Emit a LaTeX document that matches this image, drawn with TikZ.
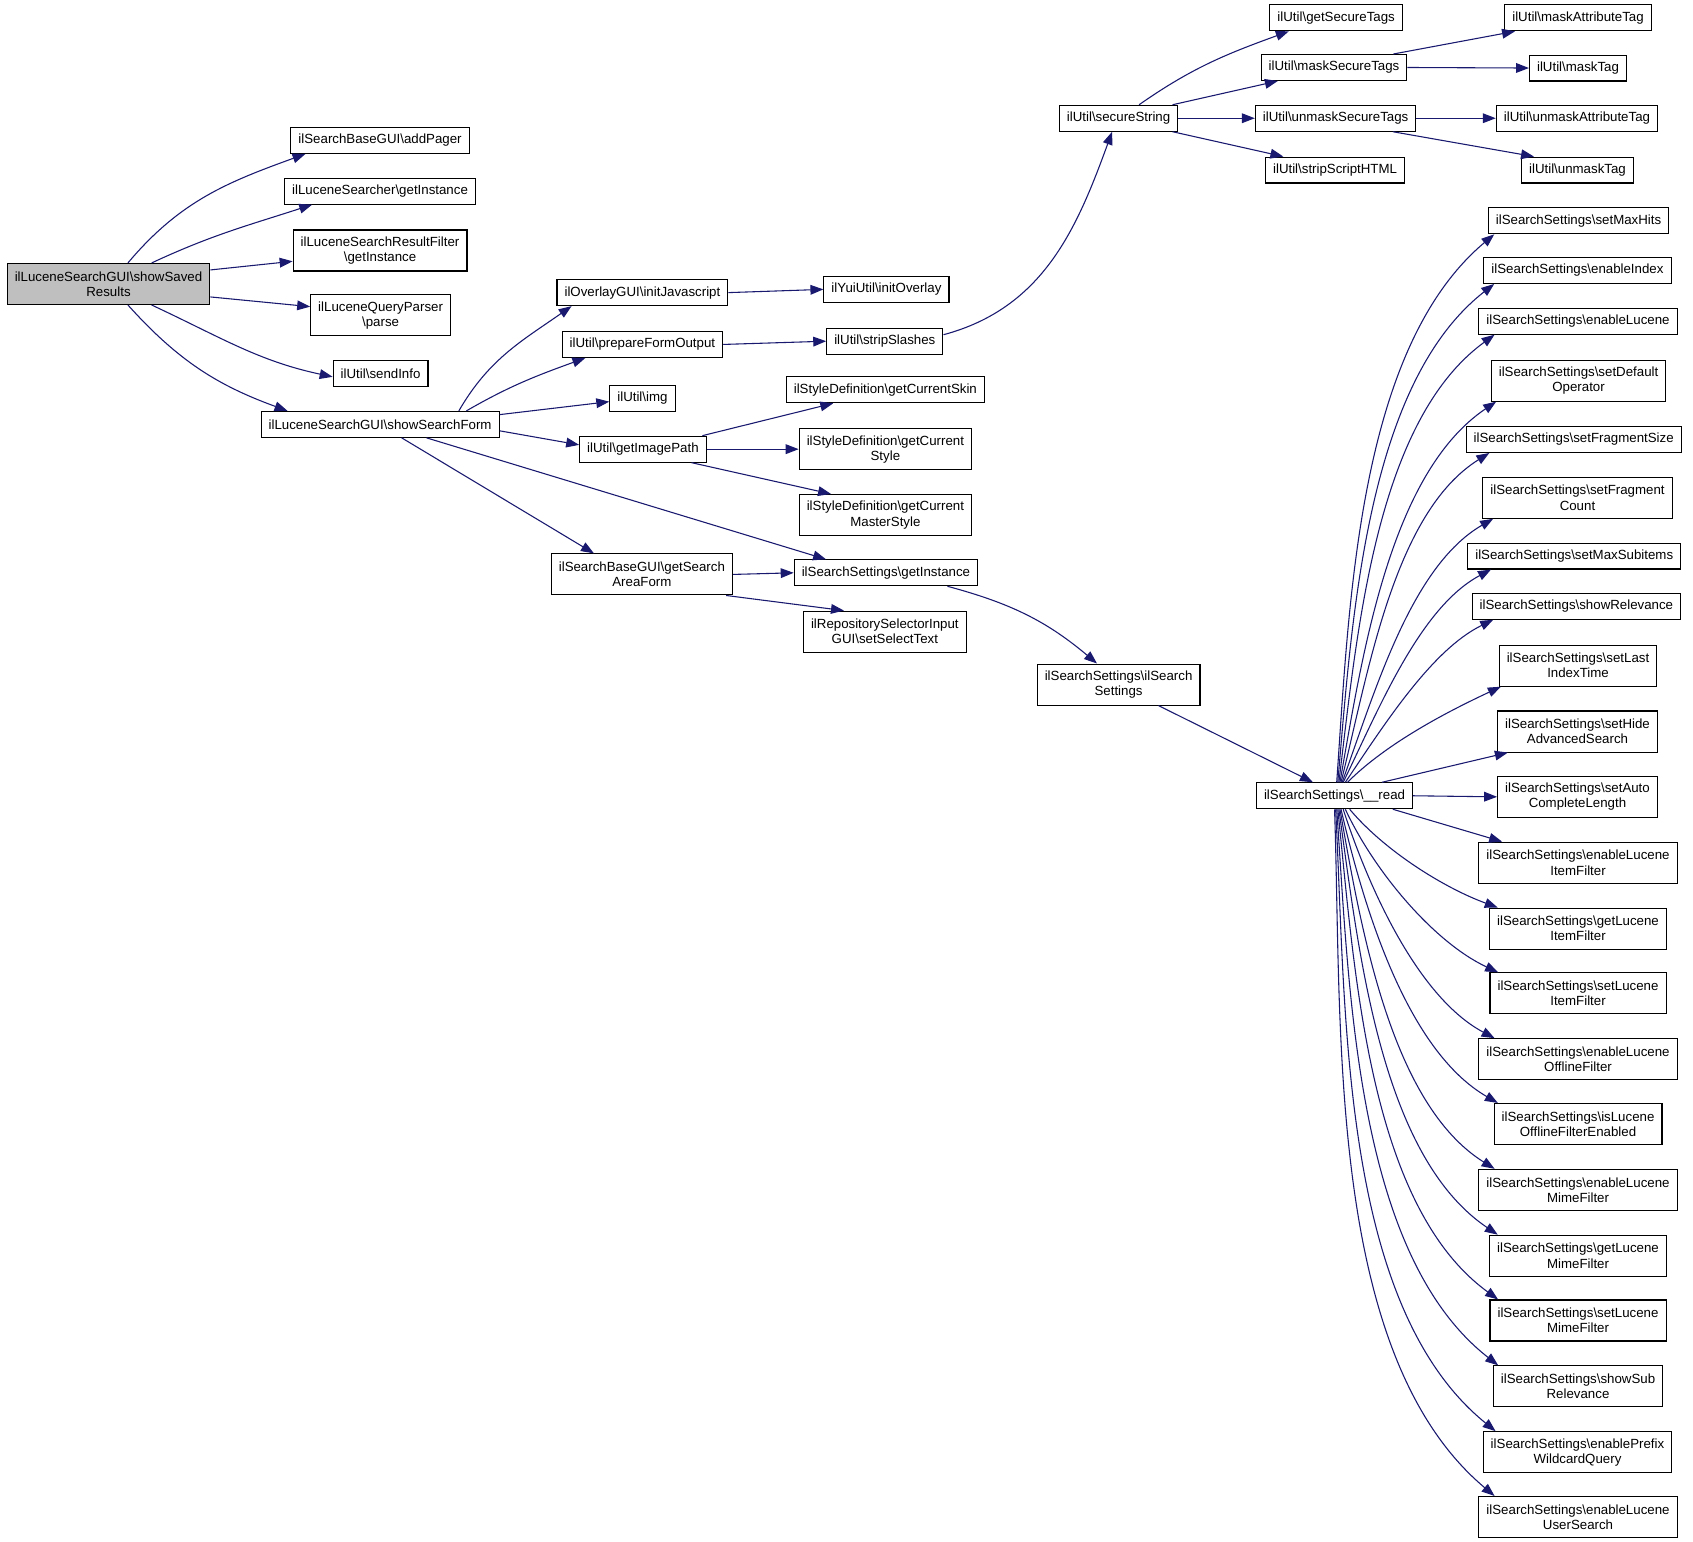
\documentclass[tikz,border=0pt]{standalone}
\usepackage{fontspec}
\setmainfont{Liberation Sans}
\usepackage{tikz}
\usetikzlibrary{arrows.meta,positioning}
\definecolor{callblue}{HTML}{191970}
\newcommand{\bsl}{\textbackslash}
\tikzstyle{fn} = [rectangle, draw=black, line width=1pt, inner xsep=7pt, inner ysep=0pt,
   minimum height=24pt, align=center, font=\fontsize{12.3}{14}\selectfont]
\tikzstyle{fntwo} = [fn, minimum height=38pt]
\tikzstyle{root} = [fntwo, fill=black!25]
\tikzstyle{call} = [-{Triangle[length=12pt,width=9pt]}, draw=callblue, line width=1pt]

\begin{document}
\begin{tikzpicture}[x=1pt,y=1pt]
\useasboundingbox (0,0) rectangle (1568,-1428);

% caller
\node (saved) [root] at (100.5,-263) {ilLuceneSearchGUI\bsl showSaved\\Results};

% first level
\node (addPager) [fn] at (352,-130) {ilSearchBaseGUI\bsl addPager};
\node (searcherInst) [fn] at (352,-177) {ilLuceneSearcher\bsl getInstance};
\node (filterInst) [fntwo] at (352,-232) {ilLuceneSearchResultFilter\\\bsl getInstance};
\node (parserParse) [fntwo] at (352.5,-292) {ilLuceneQueryParser\\\bsl parse};
\node (sendInfo) [fn] at (352.5,-346) {ilUtil\bsl sendInfo};
\node (searchForm) [fn] at (352,-393) {ilLuceneSearchGUI\bsl showSearchForm};

% second level
\node (initJs) [fn] at (595,-271) {ilOverlayGUI\bsl initJavascript};
\node (prepForm) [fn] at (595,-319) {ilUtil\bsl prepareFormOutput};
\node (img) [fn] at (595,-369) {ilUtil\bsl img};
\node (imgPath) [fn] at (595.5,-416) {ilUtil\bsl getImagePath};
\node (areaForm) [fntwo] at (594.5,-532) {ilSearchBaseGUI\bsl getSearch\\AreaForm};

% third level
\node (initOverlay) [fn] at (821,-268) {ilYuiUtil\bsl initOverlay};
\node (stripSlashes) [fn] at (819.5,-316) {ilUtil\bsl stripSlashes};
\node (curSkin) [fn] at (820,-361) {ilStyleDefinition\bsl getCurrentSkin};
\node (curStyle) [fntwo] at (820,-416) {ilStyleDefinition\bsl getCurrent\\Style};
\node (curMaster) [fntwo] at (820,-477) {ilStyleDefinition\bsl getCurrent\\MasterStyle};
\node (settingsInst) [fn] at (820.5,-530.5) {ilSearchSettings\bsl getInstance};
\node (selectText) [fntwo] at (819.5,-585) {ilRepositorySelectorInput\\GUI\bsl setSelectText};

% fourth level
\node (secureString) [fn] at (1036,-109.5) {ilUtil\bsl secureString};
\node (settingsCtor) [fntwo] at (1036,-634) {ilSearchSettings\bsl ilSearch\\Settings};

% fifth level
\node (getSecTags) [fn] at (1237.5,-16.5) {ilUtil\bsl getSecureTags};
\node (maskSecTags) [fn] at (1235.5,-62.5) {ilUtil\bsl maskSecureTags};
\node (unmaskSecTags) [fn] at (1237,-109.5) {ilUtil\bsl unmaskSecureTags};
\node (stripScript) [fn] at (1236.5,-157.5) {ilUtil\bsl stripScriptHTML};
\node (read) [fn] at (1236,-737) {ilSearchSettings\bsl\_\_read};

% tag helpers
\node (maskAttr) [fn] at (1461.5,-16.5) {ilUtil\bsl maskAttributeTag};
\node (maskTag) [fn] at (1461.5,-63) {ilUtil\bsl maskTag};
\node (unmaskAttr) [fn] at (1460.5,-109.5) {ilUtil\bsl unmaskAttributeTag};
\node (unmaskTag) [fn] at (1461,-157.5) {ilUtil\bsl unmaskTag};

% settings read by __read
\node (maxHits) [fn] at (1462,-204.5) {ilSearchSettings\bsl setMaxHits};
\node (enIndex) [fn] at (1461,-250.5) {ilSearchSettings\bsl enableIndex};
\node (enLucene) [fn] at (1461.5,-297.5) {ilSearchSettings\bsl enableLucene};
\node (defOperator) [fntwo] at (1462,-352.5) {ilSearchSettings\bsl setDefault\\Operator};
\node (fragSize) [fn] at (1457.5,-407) {ilSearchSettings\bsl setFragmentSize};
\node (fragCount) [fntwo] at (1461,-461) {ilSearchSettings\bsl setFragment\\Count};
\node (maxSubitems) [fn] at (1458,-515) {ilSearchSettings\bsl setMaxSubitems};
\node (showRel) [fn] at (1460,-561.5) {ilSearchSettings\bsl showRelevance};
\node (lastIndex) [fntwo] at (1461.5,-616.5) {ilSearchSettings\bsl setLast\\IndexTime};
\node (hideAdv) [fntwo] at (1461,-677.5) {ilSearchSettings\bsl setHide\\AdvancedSearch};
\node (autoComplete) [fntwo] at (1461,-738) {ilSearchSettings\bsl setAuto\\CompleteLength};
\node (enItemFilter) [fntwo] at (1461.5,-799) {ilSearchSettings\bsl enableLucene\\ItemFilter};
\node (getItemFilter) [fntwo] at (1461.5,-860) {ilSearchSettings\bsl getLucene\\ItemFilter};
\node (setItemFilter) [fntwo] at (1461.5,-920) {ilSearchSettings\bsl setLucene\\ItemFilter};
\node (enOffline) [fntwo] at (1461.5,-981) {ilSearchSettings\bsl enableLucene\\OfflineFilter};
\node (isOffline) [fntwo] at (1461.5,-1041) {ilSearchSettings\bsl isLucene\\OfflineFilterEnabled};
\node (enMime) [fntwo] at (1461.5,-1102) {ilSearchSettings\bsl enableLucene\\MimeFilter};
\node (getMime) [fntwo] at (1461.5,-1163) {ilSearchSettings\bsl getLucene\\MimeFilter};
\node (setMime) [fntwo] at (1461.5,-1223) {ilSearchSettings\bsl setLucene\\MimeFilter};
\node (showSubRel) [fntwo] at (1461.5,-1284) {ilSearchSettings\bsl showSub\\Relevance};
\node (enPrefix) [fntwo] at (1461,-1345) {ilSearchSettings\bsl enablePrefix\\WildcardQuery};
\node (enUserSearch) [fntwo] at (1461.5,-1405) {ilSearchSettings\bsl enableLucene\\UserSearch};

% calls from showSavedResults
\draw [call] ([xshift=18pt]saved.north) to[out=50,in=200] ([xshift=14pt]addPager.south west);
\draw [call] ([xshift=40pt]saved.north) to[out=25,in=198] ([xshift=26pt]searcherInst.south west);
\draw [call] ([yshift=13pt]saved.east) -- ([yshift=-10pt]filterInst.west);
\draw [call] ([yshift=-12pt]saved.east) -- ([yshift=8pt]parserParse.west);
\draw [call] ([xshift=40pt]saved.south) to[out=-25,in=168] ([yshift=-3pt]sendInfo.west);
\draw [call] ([xshift=18pt]saved.south) to[out=-48,in=160] ([xshift=25pt]searchForm.north west);

% calls from showSearchForm
\draw [call] ([xshift=73pt]searchForm.north) to[out=60,in=215] ([xshift=14pt]initJs.south west);
\draw [call] ([xshift=80pt]searchForm.north) to[out=30,in=200] ([xshift=22pt]prepForm.south west);
\draw [call] ([yshift=9pt]searchForm.east) -- ([yshift=-3pt]img.west);
\draw [call] ([yshift=-6pt]searchForm.east) -- ([yshift=4pt]imgPath.west);
\draw [call] ([xshift=43pt]searchForm.south) -- ([xshift=30pt]settingsInst.north west);
\draw [call] ([xshift=20pt]searchForm.south) -- ([xshift=40pt]areaForm.north west);

\draw [call] (initJs.east) -- (initOverlay.west);
\draw [call] (prepForm.east) -- (stripSlashes.west);
\draw [call] ([xshift=55pt]imgPath.north) -- ([xshift=44pt]curSkin.south west);
\draw [call] (imgPath.east) -- (curStyle.west);
\draw [call] ([xshift=45pt]imgPath.south) -- ([xshift=30pt]curMaster.north west);
\draw [call] (areaForm.east) -- (settingsInst.west);
\draw [call] ([xshift=78pt]areaForm.south) -- ([xshift=38pt]selectText.north west);

\draw [call] ([yshift=6pt]stripSlashes.east) to[out=15,in=250] ([xshift=-6pt]secureString.south);
\draw [call] ([xshift=57pt]settingsInst.south) to[out=-15,in=140] ([xshift=-20pt]settingsCtor.north);
\draw [call] ([xshift=37pt]settingsCtor.south) -- ([xshift=-20pt]read.north);

% secureString and tags
\draw [call] ([xshift=19pt]secureString.north) to[out=35,in=200] ([xshift=18pt]getSecTags.south west);
\draw [call] ([xshift=50pt]secureString.north) -- ([xshift=16pt]maskSecTags.south west);
\draw [call] (secureString.east) -- (unmaskSecTags.west);
\draw [call] ([xshift=50pt]secureString.south) -- ([xshift=17pt]stripScript.north west);
\draw [call] ([xshift=55pt]maskSecTags.north) -- ([xshift=10pt]maskAttr.south west);
\draw [call] (maskSecTags.east) -- (maskTag.west);
\draw [call] (unmaskSecTags.east) -- (unmaskAttr.west);
\draw [call] ([xshift=53pt]unmaskSecTags.south) -- ([xshift=12pt]unmaskTag.north west);

% __read upwards
\draw [call] ([xshift=2pt]read.north) to[out=86,in=220,looseness=0.8] ([xshift=6pt]maxHits.south west);
\draw [call] ([xshift=3pt]read.north) to[out=85,in=218,looseness=0.8] ([xshift=10pt]enIndex.south west);
\draw [call] ([xshift=4pt]read.north) to[out=83,in=216,looseness=0.8] ([xshift=15pt]enLucene.south west);
\draw [call] ([xshift=5pt]read.north) to[out=80,in=214,looseness=0.8] ([xshift=5pt]defOperator.south west);
\draw [call] ([xshift=6pt]read.north) to[out=76,in=212,looseness=0.8] ([xshift=22pt]fragSize.south west);
\draw [call] ([xshift=7pt]read.north) to[out=70,in=210,looseness=0.8] ([xshift=10pt]fragCount.south west);
\draw [call] ([xshift=8pt]read.north) to[out=64,in=208,looseness=0.8] ([xshift=22pt]maxSubitems.south west);
\draw [call] ([xshift=10pt]read.north) to[out=56,in=206,looseness=0.8] ([xshift=20pt]showRel.south west);
\draw [call] ([xshift=12pt]read.north) to[out=45,in=205,looseness=0.8] ([xshift=2pt]lastIndex.south west);
\draw [call] ([xshift=44pt]read.north) -- ([xshift=10pt]hideAdv.south west);
\draw [call] (read.east) -- (autoComplete.west);

% __read downwards
\draw [call] ([xshift=54pt]read.south) -- ([xshift=22pt]enItemFilter.north west);
\draw [call] ([xshift=14pt]read.south) to[out=-50,in=160,looseness=0.8] ([xshift=8pt]getItemFilter.north west);
\draw [call] ([xshift=10pt]read.south) to[out=-65,in=155,looseness=0.8] ([xshift=8pt]setItemFilter.north west);
\draw [call] ([xshift=8pt]read.south) to[out=-72,in=152,looseness=0.8] ([xshift=15pt]enOffline.north west);
\draw [call] ([xshift=6pt]read.south) to[out=-77,in=150,looseness=0.8] ([xshift=4pt]isOffline.north west);
\draw [call] ([xshift=5pt]read.south) to[out=-80,in=148,looseness=0.8] ([xshift=15pt]enMime.north west);
\draw [call] ([xshift=4pt]read.south) to[out=-82,in=146,looseness=0.8] ([xshift=8pt]getMime.north west);
\draw [call] ([xshift=3pt]read.south) to[out=-84,in=144,looseness=0.8] ([xshift=8pt]setMime.north west);
\draw [call] ([xshift=2pt]read.south) to[out=-86,in=142,looseness=0.8] ([xshift=5pt]showSubRel.north west);
\draw [call] ([xshift=1pt]read.south) to[out=-87,in=141,looseness=0.8] ([xshift=12pt]enPrefix.north west);
\draw [call] (read.south) to[out=-88,in=140,looseness=0.8] ([xshift=15pt]enUserSearch.north west);

\end{tikzpicture}
\end{document}
